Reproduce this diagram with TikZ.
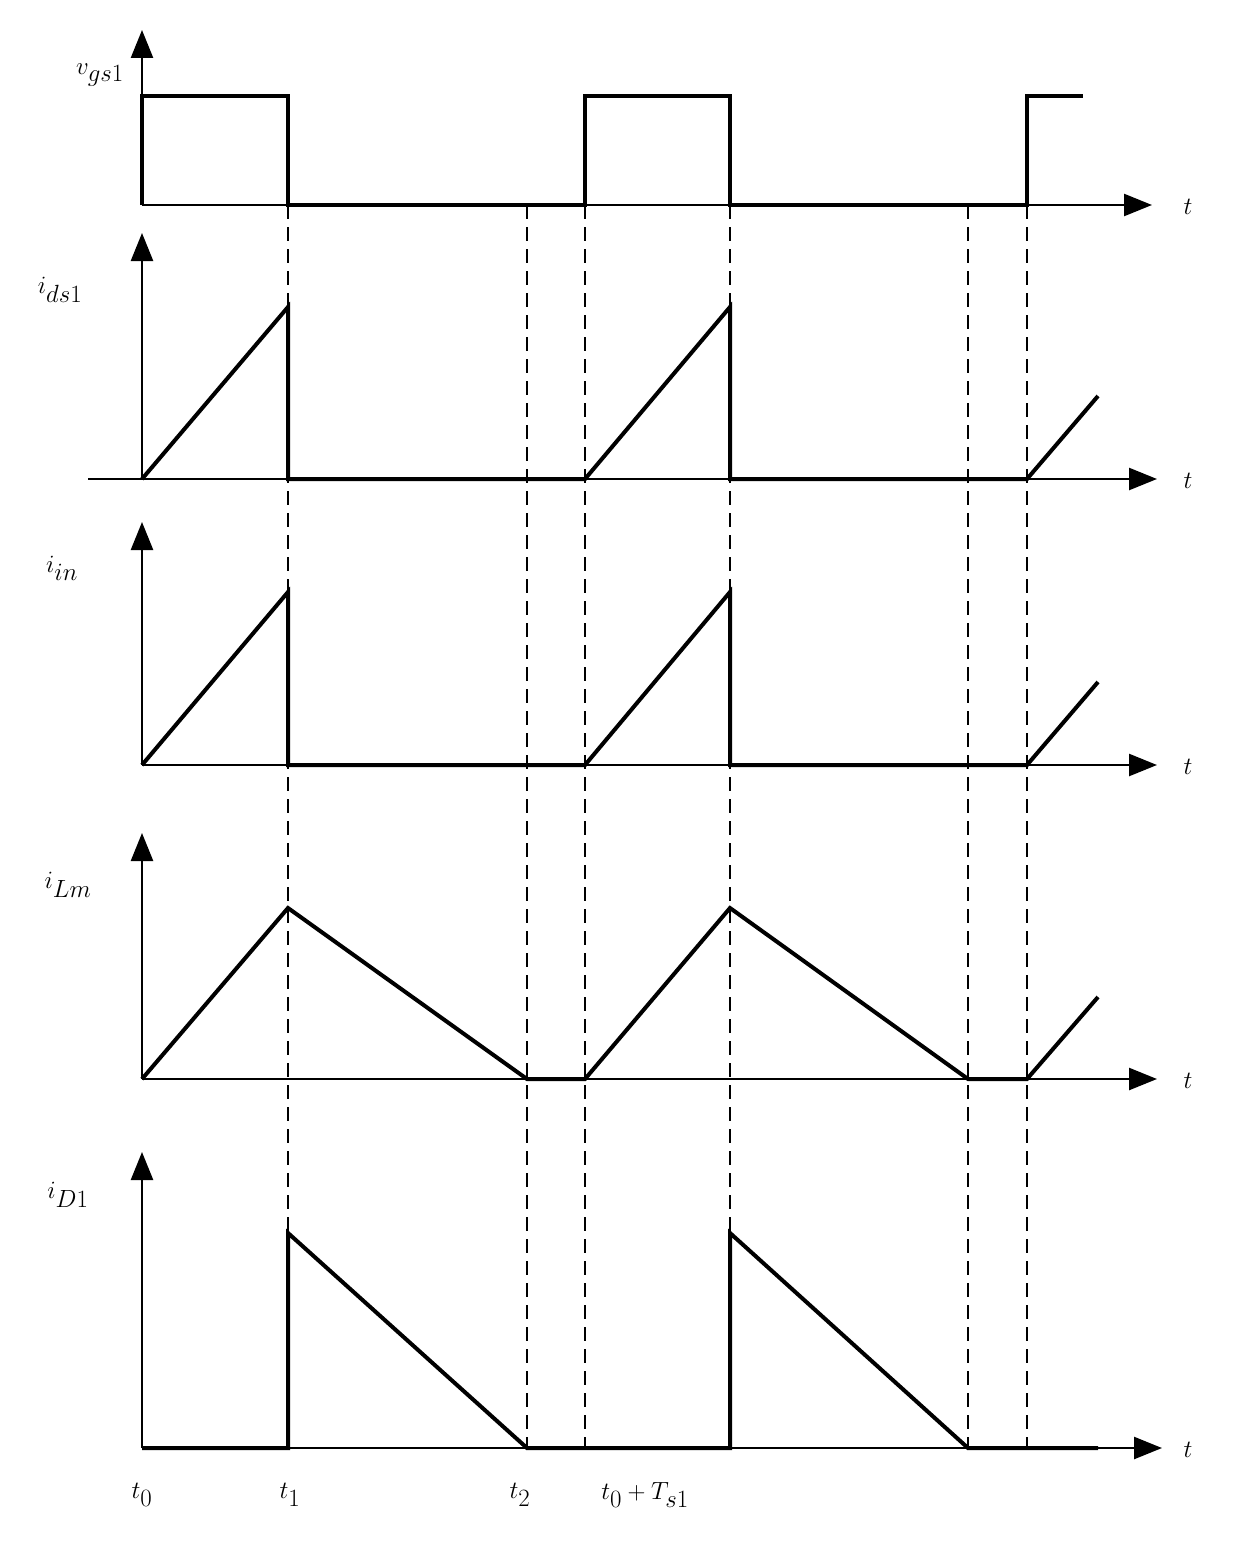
\documentclass[tikz,border=0pt]{standalone}
\usepackage{fontspec}
\setmainfont{Liberation Serif}
\usetikzlibrary{arrows.meta}
\begin{document}
\begin{tikzpicture}[x=1pt,y=-1pt,
 ax/.style={line width=2.5pt,-{Triangle[length=28pt,width=22pt]}},
 wf/.style={line width=4pt,line join=miter},
 dsh/.style={line width=2pt,dash pattern=on 14pt off 8pt},
 lbl/.style={font=\fontsize{40}{40}\selectfont}]
\useasboundingbox (0,0) rectangle (1233,1549);
% dashed
\foreach \x in {288,527,585,730,968,1027} \draw[dsh] (\x,205) -- (\x,1448);
% axes
\foreach \b/\t in {205/30,479/233,765/522,1079/833,1448/1152} {
 \draw[ax] (142,\b) -- (142,\t);
}
\draw[ax] (142,205) -- (1152,205);
\draw[ax] (88,479) -- (1157,479);
\draw[ax] (142,765) -- (1157,765);
\draw[ax] (142,1079) -- (1157,1079);
\draw[ax] (142,1448) -- (1162,1448);
% waveforms
\draw[wf] (142,205) -- (142,96) -- (288,96) -- (288,205) -- (585,205) -- (585,96) -- (730,96) -- (730,205) -- (1027,205) -- (1027,96) -- (1083,96);
\draw[wf] (142,479) -- (288,307) -- (288,479) -- (585,479) -- (730,307) -- (730,479) -- (1027,479) -- (1098,396);
\draw[wf] (142,765) -- (288,592) -- (288,765) -- (585,765) -- (730,592) -- (730,765) -- (1027,765) -- (1098,682);
\draw[wf] (142,1079) -- (288,908) -- (527,1079) -- (585,1079) -- (730,908) -- (968,1079) -- (1027,1079) -- (1098,997);
\draw[wf] (142,1448) -- (288,1448) -- (288,1233) -- (527,1448) -- (730,1448) -- (730,1233) -- (968,1448) -- (1098,1448);
% labels
\node[lbl] at (100,75) {$v_{gs1}$};
\node[lbl] at (60,290) {$i_{ds1}$};
\node[lbl] at (62,568) {$i_{in}$};
\node[lbl] at (68,885) {$i_{Lm}$};
\node[lbl] at (68,1195) {$i_{D1}$};
\foreach \y in {207,481,767,1081,1450} \node[lbl] at (1188,\y) {$t$};
\node[lbl] at (142,1495) {$t_0$};
\node[lbl] at (290,1495) {$t_1$};
\node[lbl] at (520,1495) {$t_2$};
\node[lbl] at (645,1495) {$t_0+T_{s1}$};
\end{tikzpicture}
\end{document}
